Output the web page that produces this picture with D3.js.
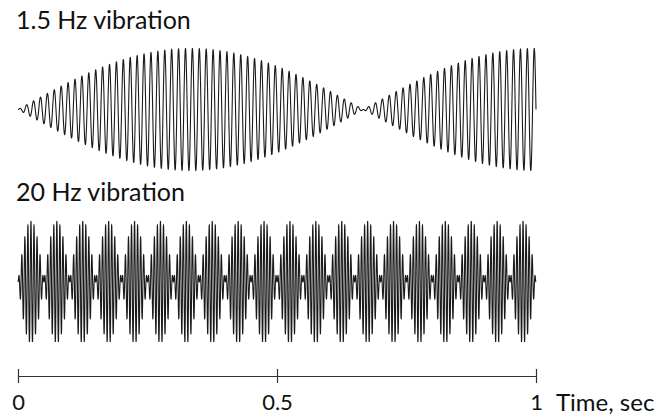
<!DOCTYPE html>
<html>
<head>
<meta charset="utf-8">
<script src="https://cdn.jsdelivr.net/npm/d3@7"></script>
<style>
  html, body { margin: 0; padding: 0; background: #fff; }
  svg { display: block; }
  text { font-family: Lato, "Open Sans", sans-serif; fill: #111; }
</style>
</head>
<body>
<script>
// ---- data ----
const panelTitles = ["1.5 Hz vibration", "20 Hz vibration"];
const beatFreqs = [1.5, 20];        // Hz, envelope (beat) frequency
const carrierFreqs = [75, 170];     // Hz, carrier frequency
const amplitudes = [1, 1];
const tickValues = [0, 0.5, 1];
const tickLabels = ["0", "0.5", "1"];
const axisTitle = "Time, sec";

// ---- layout ----
const W = 665, H = 419;
const svg = d3.select("body").append("svg").attr("width", W).attr("height", H);

const x = d3.scaleLinear().domain([0, 1]).range([18, 536]);
const centers = [109.5, 282];
const halfH = 61;

const N = 12000;
const ts = d3.range(N + 1).map(i => i / N);

panelTitles.forEach((title, k) => {
  const y = d3.scaleLinear().domain([-1, 1]).range([centers[k] + halfH, centers[k] - halfH]);
  const pts = ts.map(t => ({
    t,
    v: amplitudes[k] * Math.sin(Math.PI * beatFreqs[k] * t) * Math.sin(2 * Math.PI * carrierFreqs[k] * t)
  }));
  const line = d3.line().x(d => x(d.t)).y(d => y(d.v));
  svg.append("path")
    .datum(pts)
    .attr("d", line)
    .attr("fill", "none")
    .attr("stroke", "#1a1a1a")
    .attr("stroke-width", 1.1);

  svg.append("text")
    .attr("x", 16)
    .attr("y", k === 0 ? 29 : 201)
    .attr("font-size", 25)
    .text(title);
});

// ---- axis ----
const axis = d3.axisBottom(x)
  .tickValues(tickValues)
  .tickFormat((d, i) => tickLabels[i])
  .tickSizeInner(7)
  .tickSizeOuter(0)
  .tickPadding(11);

const gAxis = svg.append("g").attr("transform", "translate(0,376)").call(axis);
gAxis.select(".domain").attr("stroke", "#333").attr("stroke-width", 1.2);
gAxis.selectAll(".tick line").attr("y1", -7).attr("y2", 7).attr("stroke", "#333").attr("stroke-width", 1.2);
gAxis.selectAll(".tick text")
  .attr("font-size", 22)
  .attr("font-family", "Lato, 'Open Sans', sans-serif")
  .attr("fill", "#111");

svg.append("text")
  .attr("x", 556)
  .attr("y", 411)
  .attr("font-size", 24)
  .text(axisTitle);
</script>
</body>
</html>
